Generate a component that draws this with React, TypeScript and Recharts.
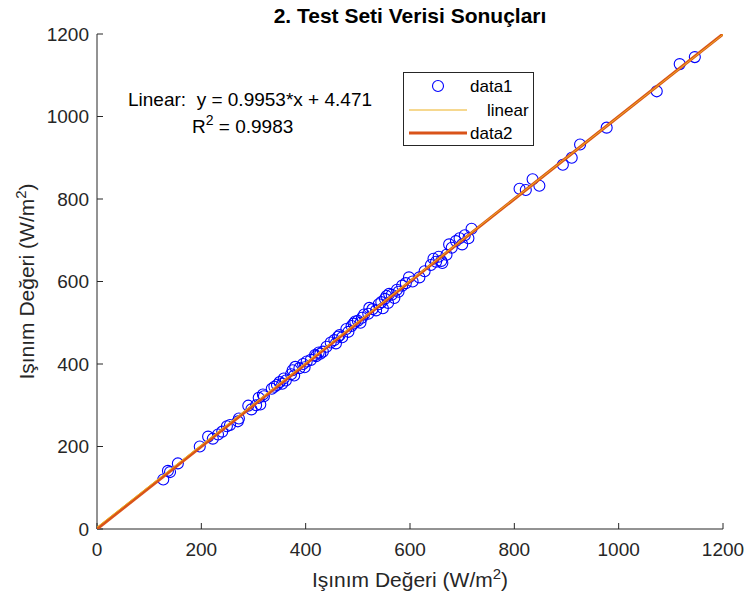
import React from 'react';
import { ScatterChart, Scatter, XAxis, YAxis, Legend, Customized, Label } from 'recharts';

const FONT = '"Liberation Sans", Arial, Helvetica, sans-serif';
const AXIS_COLOR = '#262626';

const xTicks = [0, 200, 400, 600, 800, 1000, 1200];
const yTicks = [0, 200, 400, 600, 800, 1000, 1200];

const data1X = [127, 136, 140, 155, 197, 213, 222, 232, 240, 249, 255, 270, 272, 290, 296, 305, 310, 313, 318, 320,
  335, 340, 345, 350, 355, 358, 362, 372, 375, 378, 380, 388, 395, 398, 402, 410, 418, 420, 425, 428,
  433, 440, 448, 455, 458, 462, 465, 470, 478, 482, 488, 492, 495, 500, 505, 508, 512, 520, 522, 528,
  535, 540, 545, 548, 552, 555, 558, 560, 565, 570, 575, 578, 585, 592, 598, 605, 618, 628, 640, 645,
  650, 655, 660, 662, 670, 675, 680, 688, 695, 700, 705, 712, 718, 810, 822, 835, 848, 893, 910, 926,
  977, 1073, 1117, 1146];
const data1Y = [120, 141, 138, 159, 200, 224, 219, 229, 236, 249, 252, 261, 268, 299, 290, 300, 318, 302, 326, 322,
  340, 345, 349, 356, 352, 365, 360, 375, 385, 372, 393, 390, 400, 392, 406, 410, 422, 419, 428, 425,
  430, 442, 452, 458, 450, 466, 470, 465, 485, 478, 492, 498, 503, 505, 500, 512, 520, 522, 536, 533,
  530, 545, 550, 535, 558, 565, 548, 570, 568, 560, 580, 575, 590, 596, 610, 600, 610, 625, 640, 655,
  648, 660, 650, 645, 665, 690, 682, 698, 705, 690, 712, 705, 728, 825, 822, 848, 832, 883, 900, 932,
  973, 1061, 1127, 1144];

// linear fit: y = 0.9953*x + 4.471
const linearX = [0, 1200];
const linearY = [4.471, 1198.831];

// data2: ideal line
const data2X = [0, 1200];
const data2Y = [0, 1200];

const data1 = data1X.map((x, i) => ({ x, y: data1Y[i] }));
const linear = linearX.map((x, i) => ({ x, y: linearY[i] }));
const data2 = data2X.map((x, i) => ({ x, y: data2Y[i] }));

const Circle = (props: any) => {
  const { cx, cy } = props;
  if (cx == null || cy == null) return <g />;
  return <circle cx={cx} cy={cy} r={5.5} fill="none" stroke="#0000FF" strokeWidth={1.1} />;
};

const NoShape = () => <g />;

const renderLegend = () => (
  <div
    style={{
      width: 131,
      height: 74,
      boxSizing: 'border-box',
      border: `1px solid ${AXIS_COLOR}`,
      background: '#fff',
      position: 'relative',
      fontFamily: FONT,
      fontSize: 17,
      color: '#000',
    }}
  >
    <svg width={131} height={74} style={{ position: 'absolute', left: -1, top: -1 }}>
      <circle cx={35} cy={14} r={5.5} fill="none" stroke="#0000FF" strokeWidth={1.1} />
      <line x1={6} x2={64} y1={38} y2={38} stroke="#EDB120" strokeWidth={1} />
      <line x1={6} x2={64} y1={61} y2={61} stroke="#D95319" strokeWidth={3} />
      <text x={67} y={20} fontSize={17} fontFamily={FONT} fill="#000">data1</text>
      <text x={84} y={44} fontSize={17} fontFamily={FONT} fill="#000">linear</text>
      <text x={67} y={67} fontSize={17} fontFamily={FONT} fill="#000">data2</text>
    </svg>
  </div>
);

const Annotations = () => (
  <g fontFamily={FONT}>
    <text x={410} y={23} textAnchor="middle" fontSize={21} fontWeight="bold" fill="#000">
      2. Test Seti Verisi Sonuçları
    </text>
    <text x={128} y={106} fontSize={19} fill="#000" xmlSpace="preserve">
      {'Linear:  y = 0.9953*x + 4.471'}
    </text>
    <text x={192} y={133} fontSize={19} fill="#000">
      <tspan>R</tspan>
      <tspan dy={-8} fontSize={14}>2</tspan>
      <tspan dy={8}>{' = 0.9983'}</tspan>
    </text>
  </g>
);

const XTitle = (props: any) => {
  const vb = props.viewBox || { x: 97, y: 529, width: 626 };
  const cx = vb.x + vb.width / 2;
  return (
    <text x={cx} y={vb.y + 58} textAnchor="middle" fontSize={21} fontFamily={FONT} fill={AXIS_COLOR}>
      <tspan>Işınım Değeri (W/m</tspan>
      <tspan dy={-8} fontSize={15}>2</tspan>
      <tspan dy={8}>)</tspan>
    </text>
  );
};

const YTitle = (props: any) => {
  const vb = props.viewBox || { x: 0, y: 34, height: 495 };
  const cy = vb.y + vb.height / 2;
  const bx = 34;
  return (
    <text
      x={bx}
      y={cy}
      transform={`rotate(-90, ${bx}, ${cy})`}
      textAnchor="middle"
      fontSize={21}
      fontFamily={FONT}
      fill={AXIS_COLOR}
    >
      <tspan>Işınım Değeri (W/m</tspan>
      <tspan dy={-8} fontSize={15}>2</tspan>
      <tspan dy={8}>)</tspan>
    </text>
  );
};

const tickStyle = { fill: AXIS_COLOR, fontSize: 19, fontFamily: FONT };

export default function App() {
  return (
    <div style={{ position: 'absolute', left: 0, top: 0, width: 745, height: 596, background: '#fff' }}>
      <ScatterChart width={745} height={596} margin={{ top: 34, right: 22, bottom: 0, left: 0 }}>
        <XAxis
          xAxisId={0}
          type="number"
          dataKey="x"
          domain={[0, 1200]}
          ticks={xTicks}
          interval={0}
          allowDataOverflow
          height={67}
          tickSize={-6}
          tickMargin={20}
          stroke={AXIS_COLOR}
          axisLine={{ stroke: AXIS_COLOR, strokeWidth: 1 }}
          tickLine={{ stroke: AXIS_COLOR }}
          tick={tickStyle}
        >
          <Label content={<XTitle />} />
        </XAxis>
        <XAxis
          xAxisId="top"
          orientation="top"
          type="number"
          dataKey="x"
          domain={[0, 1200]}
          ticks={xTicks}
          interval={0}
          allowDataOverflow
          height={0}
          tickSize={-6}
          tick={false}
          axisLine={{ stroke: AXIS_COLOR, strokeWidth: 1 }}
          tickLine={{ stroke: AXIS_COLOR }}
        />
        <YAxis
          yAxisId={0}
          type="number"
          dataKey="y"
          domain={[0, 1200]}
          ticks={yTicks}
          interval={0}
          allowDataOverflow
          width={97}
          tickSize={-6}
          tickMargin={14}
          axisLine={{ stroke: AXIS_COLOR, strokeWidth: 1 }}
          tickLine={{ stroke: AXIS_COLOR }}
          tick={tickStyle}
        >
          <Label content={<YTitle />} />
        </YAxis>
        <YAxis
          yAxisId="right"
          orientation="right"
          type="number"
          dataKey="y"
          domain={[0, 1200]}
          ticks={yTicks}
          interval={0}
          allowDataOverflow
          width={0}
          tickSize={-6}
          tick={false}
          axisLine={{ stroke: AXIS_COLOR, strokeWidth: 1 }}
          tickLine={{ stroke: AXIS_COLOR }}
        />
        <Scatter name="data1" data={data1} shape={<Circle />} isAnimationActive={false} />
        <Scatter
          name="data2"
          data={data2}
          line={{ stroke: '#D95319', strokeWidth: 3 }}
          shape={<NoShape />}
          isAnimationActive={false}
        />
        <Scatter
          name="linear"
          data={linear}
          line={{ stroke: '#EDB120', strokeWidth: 1 }}
          shape={<NoShape />}
          isAnimationActive={false}
        />
        <Legend
          layout="horizontal"
          verticalAlign="middle"
          align="center"
          content={renderLegend}
          wrapperStyle={{ position: 'absolute', left: 403, top: 72, width: 131, height: 74 }}
        />
        <Customized component={<Annotations />} />
      </ScatterChart>
    </div>
  );
}
